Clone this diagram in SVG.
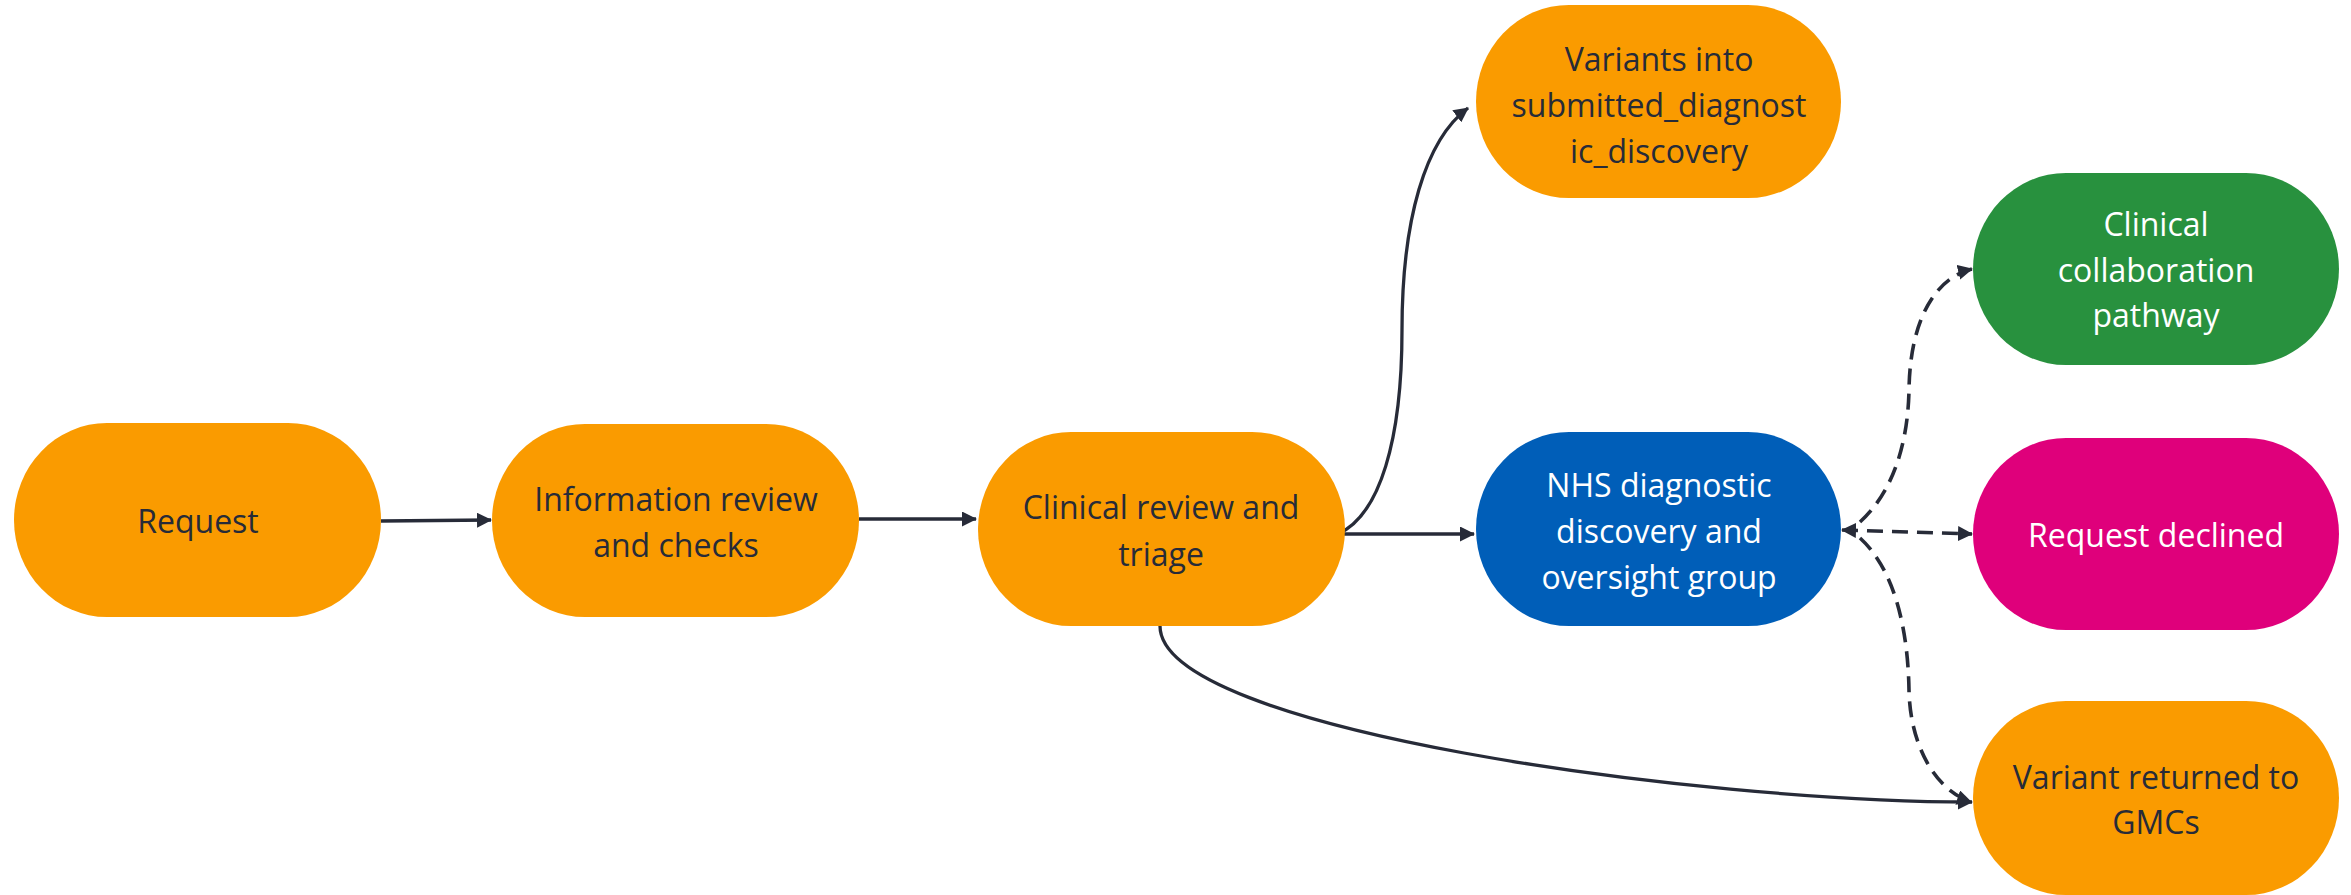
<svg xmlns="http://www.w3.org/2000/svg" width="2351" height="895" viewBox="0 0 2351 895">
<style>
.node rect{stroke:none}
.orange{fill:#FA9B00}
.blue{fill:#005EB8}
.green{fill:#28913E}
.pink{fill:#DF007B}
text{font-family:"Open Sans","Noto Sans","Liberation Sans",sans-serif;font-size:32px;text-anchor:middle}
.dark{fill:#272B38}
.light{fill:#FFFFFF}
.edge{fill:none;stroke:#272B38;stroke-width:3.3}
.dash{stroke-width:3.6;stroke-dasharray:16 9}
</style>
<defs>
<marker id="arrow" viewBox="0 0 15 15" refX="14" refY="7.5" markerWidth="15" markerHeight="15" markerUnits="userSpaceOnUse" orient="auto-start-reverse">
<path d="M0,0 L15,7.5 L0,15 z" fill="#272B38"/>
</marker>
</defs>
<g id="connectors">
<path class="edge" d="M381 521 L491 520" marker-end="url(#arrow)"/>
<path class="edge" d="M859 519 L976 519" marker-end="url(#arrow)"/>
<path class="edge" d="M1338 534 L1474 534" marker-end="url(#arrow)"/>
<path class="edge" d="M1338 534 C 1380 515, 1402 440, 1402 330 C 1402 220, 1425 140, 1468 108" marker-end="url(#arrow)"/>
<path class="edge" d="M1160 626 C 1160 730, 1700 802, 1972 802" marker-end="url(#arrow)"/>
<path class="edge dash" d="M1842 530 L1972 534" marker-start="url(#arrow)" marker-end="url(#arrow)"/>
<path class="edge dash" d="M1860 522 C 1895 490, 1908 440, 1909 390 C 1910 320, 1935 278, 1972 269" marker-end="url(#arrow)"/>
<path class="edge dash" d="M1860 538 C 1895 570, 1908 630, 1909 690 C 1910 745, 1935 790, 1971 802" marker-end="url(#arrow)"/>
</g>
<g id="node-request" class="node">
<rect class="orange" x="14" y="423" width="367" height="194" rx="93" ry="97"/>
<text class="dark" x="198" y="533">Request</text>
</g>
<g id="node-info" class="node">
<rect class="orange" x="492" y="424" width="367" height="193" rx="93" ry="96.5"/>
<text class="dark" x="676" y="511">Information review</text>
<text class="dark" x="676" y="557">and checks</text>
</g>
<g id="node-clinical-review" class="node">
<rect class="orange" x="978" y="432" width="367" height="194" rx="93" ry="97"/>
<text class="dark" x="1161" y="519">Clinical review and</text>
<text class="dark" x="1161" y="566">triage</text>
</g>
<g id="node-variants-into" class="node">
<rect class="orange" x="1476" y="5" width="365" height="193" rx="93" ry="96.5"/>
<text class="dark" x="1659" y="71">Variants into</text>
<text class="dark" x="1659" y="117">submitted_diagnost</text>
<text class="dark" x="1659" y="163">ic_discovery</text>
</g>
<g id="node-nhs" class="node">
<rect class="blue" x="1476" y="432" width="365" height="194" rx="93" ry="97"/>
<text class="light" x="1659" y="497">NHS diagnostic</text>
<text class="light" x="1659" y="543">discovery and</text>
<text class="light" x="1659" y="589">oversight group</text>
</g>
<g id="node-clinical-collaboration" class="node">
<rect class="green" x="1973" y="173" width="366" height="192" rx="93" ry="96"/>
<text class="light" x="2156" y="236">Clinical</text>
<text class="light" x="2156" y="282">collaboration</text>
<text class="light" x="2156" y="327">pathway</text>
</g>
<g id="node-request-declined" class="node">
<rect class="pink" x="1973" y="438" width="366" height="192" rx="93" ry="96"/>
<text class="light" x="2156" y="547">Request declined</text>
</g>
<g id="node-variant-returned" class="node">
<rect class="orange" x="1973" y="701" width="366" height="194" rx="93" ry="97"/>
<text class="dark" x="2156" y="789">Variant returned to</text>
<text class="dark" x="2156" y="834">GMCs</text>
</g>
</svg>
